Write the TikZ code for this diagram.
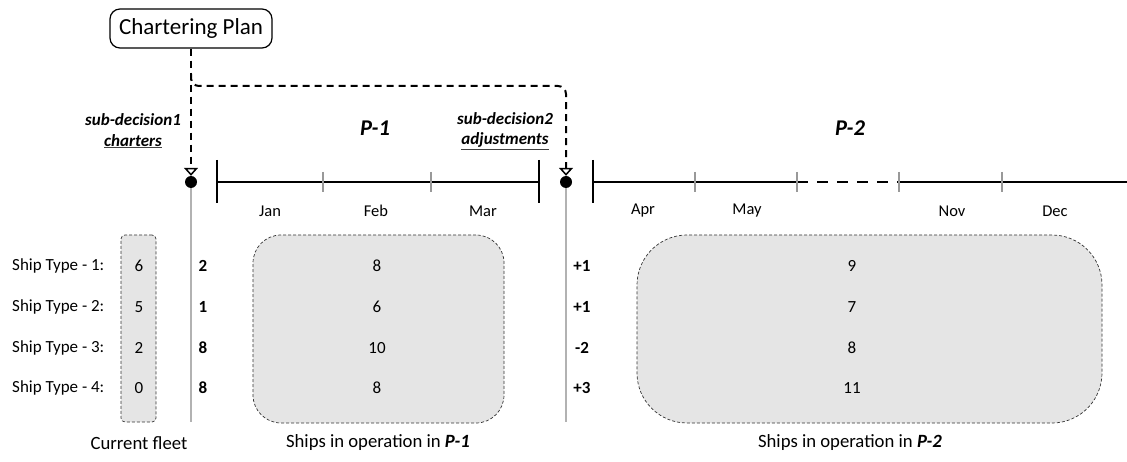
\documentclass[tikz,border=0pt]{standalone}
\usepackage{fontspec}
\setmainfont{Carlito}
\usetikzlibrary{arrows.meta}
\begin{document}
\begin{tikzpicture}[x=1pt,y=-1pt,
  txt/.style={font=\fontsize{17}{19}\selectfont, inner sep=0pt},
  mtxt/.style={font=\fontsize{16.5}{18}\selectfont, inner sep=0pt},
  btxt/.style={font=\fontsize{17}{19}\selectfont\bfseries, inner sep=0pt},
  ltxt/.style={font=\fontsize{18.7}{20}\selectfont, inner sep=0pt},
  ttl/.style={font=\fontsize{22.5}{24}\selectfont\bfseries\itshape, inner sep=0pt},
  subd/.style={font=\fontsize{17}{20.5}\selectfont\bfseries\itshape, inner sep=0pt, align=center},
  grpbox/.style={draw=black!80, densely dashed, fill=black!10, line width=0.7pt, inner sep=0pt},
  tl/.style={line width=1.6pt},
  tick/.style={draw=black!40, line width=1.3pt},
  vline/.style={draw=black!30, line width=1.6pt},
  cplan/.style={line width=2pt, dash pattern=on 7pt off 5pt},
  tip/.style={-{Triangle[open, width=14pt, length=8pt, line width=1.5pt]}},
  dot/.style={circle, fill=black, inner sep=0pt, minimum size=12pt},
]
\useasboundingbox (0,0) rectangle (1127,462);

% group boxes
\node[grpbox, rounded corners=4pt, minimum width=35pt, minimum height=187pt] (cf) at (138.5,328.5) {};
\node[grpbox, rounded corners=28pt, minimum width=251pt, minimum height=188pt] (bp1) at (378.5,329) {};
\node[grpbox, rounded corners=50pt, minimum width=465pt, minimum height=188pt] (bp2) at (869.5,329) {};

% chartering plan
\node[draw, rounded corners=10pt, line width=1.2pt, minimum width=162pt, minimum height=39pt,
      font=\fontsize{23}{25}\selectfont, inner sep=0pt] (plan) at (191,28.5) {Chartering Plan};

% decision points
\node[dot] (d1) at (191,182) {};
\node[dot] (d2) at (566,182) {};
\coordinate (br) at (191,74);
\coordinate (brc) at (191,86);
\coordinate (brr) at (566,86);
\draw[cplan, tip] (plan.south) -- (d1.north);
\draw[cplan, tip, rounded corners=8pt] (br) -- (brc) -- (brr) -- (d2.north);
\coordinate (e1) at (191,422);
\coordinate (e2) at (566,422);
\draw[vline] (d1.south) -- (e1);
\draw[vline] (d2.south) -- (e2);

% timeline P-1
\coordinate (a1) at (217,182); \coordinate (a2) at (539,182);
\draw[tl] (217,160) -- (217,203);
\draw[tl] (539,160) -- (539,203);
\draw[tl] (a1) -- (a2);
\draw[tick] (323,172) -- (323,192);
\draw[tick] (431,172) -- (431,192);
% timeline P-2
\coordinate (b1) at (593,182); \coordinate (b2) at (797,182);
\coordinate (b3) at (899,182); \coordinate (b4) at (1127,182);
\draw[tl] (593,160) -- (593,203);
\draw[tl] (b1) -- (b2);
\draw[tl, dash pattern=on 11pt off 9pt] (b2) -- (b3);
\draw[tl] (b3) -- (b4);
\foreach \x in {695,797,899,1002} \draw[tick] (\x,172) -- (\x,192);

% months
\node[mtxt] (jan) at (270,211) {Jan};
\node[mtxt] (feb) at (376,211) {Feb};
\node[mtxt] (mar) at (483,211) {Mar};
\node[mtxt] (apr) at (643,211) {Apr};
\node[mtxt] (may) at (747,211) {May};
\node[mtxt] (nov) at (952,211) {Nov};
\node[mtxt] (dec) at (1055,211) {Dec};

% titles
\node[ttl] (p1) at (375,128) {P-1};
\node[ttl] (p2) at (850,128) {P-2};
\node[subd] (sd1) at (133,131) {sub-decision1\\{\color{black!75}\underline{\color{black}charters}}};
\node[subd] (sd2) at (505,131) {sub-decision2\\{\color{black!75}\underline{\color{black}adjustments}}};

% rows
\foreach \y/\n/\a/\b/\c/\d/\e in {266/1/6/2/8/+1/9, 307/2/5/1/6/+1/7, 348/3/2/8/10/-2/8, 388/4/0/8/8/+3/11}{
  \node[txt, anchor=west] (st\n) at (12,\y) {Ship Type - \n:};
  \node[txt] (cf\n) at (139,\y) {\a};
  \node[btxt] (ch\n) at (203,\y) {\b};
  \node[txt] (o1\n) at (377,\y) {\c};
  \node[btxt] (ad\n) at (582,\y) {\d};
  \node[txt] (o2\n) at (852,\y) {\e};
}

% bottom labels
\node[ltxt] (lcf) at (139,443) {Current fleet};
\node[ltxt] (lp1) at (378,443) {Ships in operation in \textbf{\textit{P-1}}};
\node[ltxt] (lp2) at (850,443) {Ships in operation in \textbf{\textit{P-2}}};
\end{tikzpicture}
\end{document}
